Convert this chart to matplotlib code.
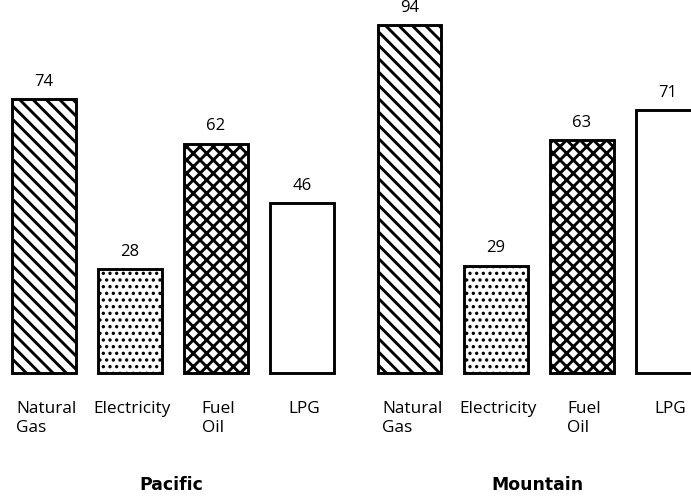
import numpy as np
import matplotlib
matplotlib.use("Agg")
import matplotlib.pyplot as plt

regions = ["Pacific", "Mountain"]
fuels = ["Natural\nGas", "Electricity", "Fuel\nOil", "LPG"]
pacific = [74, 28, 62, 46]
mountain = [94, 29, 63, 71]
hatches = ["\\\\", "..", "xx", ""]
hatch_lw = [2.6, 1.8, 2.6, 2.6]

plt.rcParams["font.family"] = ["Open Sans", "DejaVu Sans"]

dpi = 80
fig = plt.figure(figsize=(691 / dpi, 497 / dpi), dpi=dpi)
ax = fig.add_axes([0, 0, 1, 1])
ax.axis("off")

width = 0.74
offsets = [0.0, 4.25]
for off, region, vals in zip(offsets, regions, [pacific, mountain]):
    xs = np.arange(len(fuels)) + off
    for x, v, h, hlw, name in zip(xs, vals, hatches, hatch_lw, fuels):
        with plt.rc_context({"hatch.linewidth": hlw}):
            ax.bar(x, v, width=width, color="white", edgecolor="black",
                   linewidth=2.6, hatch=h)
        ax.text(x, v + 2.5, str(v), ha="center", va="bottom", fontsize=15)
        ax.text(x + 0.03, -7.6, name, ha="center", va="top", fontsize=15.5,
                multialignment="left", linespacing=1.25)
    ax.text(xs[1:3].mean() - 0.02, -30.3, region, ha="center", va="center",
            fontsize=15.5, fontweight="bold", family="DejaVu Sans")

ax.set_xlim(-0.51, 7.52)
ax.set_ylim(-33.5, 100.8)
fig.savefig("out.png", dpi=dpi)
